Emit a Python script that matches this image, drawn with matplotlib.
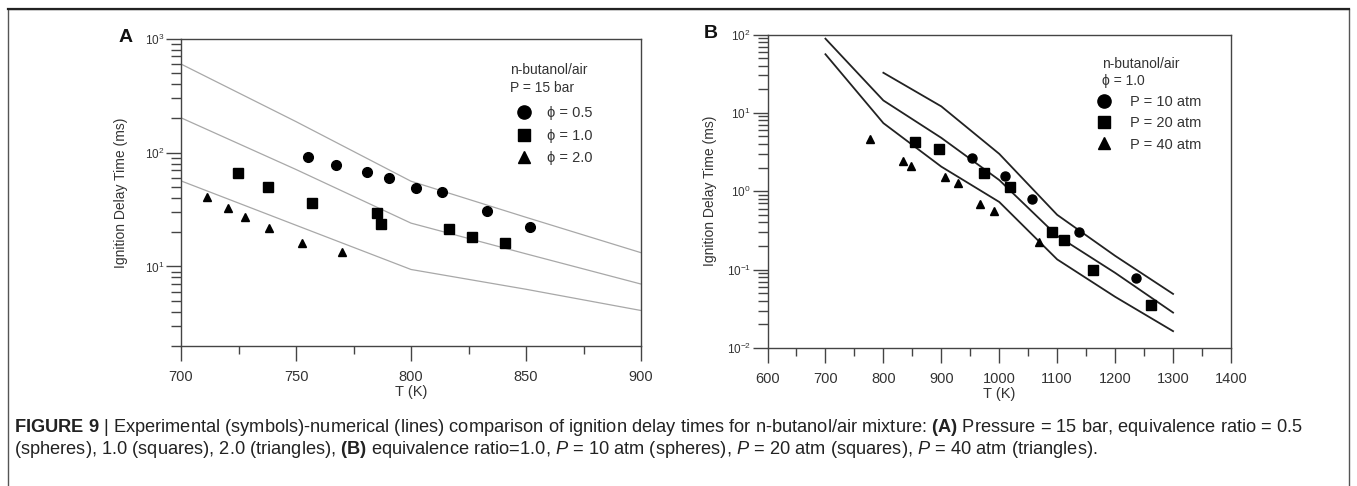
import matplotlib
matplotlib.use("Agg")
import matplotlib.pyplot as plt
import numpy as np
from matplotlib.ticker import LogLocator, MultipleLocator, LogFormatterSciNotation, NullFormatter
from matplotlib.lines import Line2D
from matplotlib.patches import Rectangle

plt.rcParams['font.family'] = ['Liberation Sans', 'DejaVu Sans']
plt.rcParams['mathtext.fontset'] = 'custom'
plt.rcParams['mathtext.rm'] = 'Liberation Sans'
plt.rcParams['mathtext.it'] = 'Liberation Sans:italic'
plt.rcParams['mathtext.bf'] = 'Liberation Sans:bold'

# ---------------- Panel A data (P = 15 bar) ----------------
a_T_phi05 = [755.3, 767.5, 780.7, 790.6, 802.2, 813.4, 833.0, 851.6]
a_tau_phi05 = [91, 77.7, 67, 59.4, 48.7, 44.7, 30.4, 22.2]
a_T_phi10 = [724.7, 738.0, 757.1, 785.0, 787.1, 816.4, 826.5, 840.8]
a_tau_phi10 = [66.2, 50, 36.1, 29.4, 23.8, 21.1, 18.1, 15.9]
a_T_phi20 = [711.5, 720.5, 727.7, 738.2, 752.4, 769.8]
a_tau_phi20 = [41, 32.9, 27.1, 21.8, 15.9, 13.5]

a_T_model = [700, 750, 800, 850, 900]
a_model_phi05 = [599, 187, 56, 27, 13.2]
a_model_phi10 = [202, 71, 24, 12.9, 7.0]
a_model_phi20 = [56.4, 23, 9.4, 6.3, 4.1]

# ---------------- Panel B data (phi = 1.0) ----------------
b_T_10atm = [953.1, 1010.6, 1057.2, 1138.3, 1235.4]
b_tau_10atm = [2.64, 1.58, 0.80, 0.30, 0.078]
b_T_20atm = [854.2, 895.7, 974.2, 1018.9, 1091.7, 1110.9, 1162.6, 1261.6]
b_tau_20atm = [4.2, 3.45, 1.69, 1.14, 0.30, 0.24, 0.10, 0.0356]
b_T_40atm = [776.2, 833.7, 847.1, 905.9, 928.2, 967.2, 991.4, 1068.1]
b_tau_40atm = [4.65, 2.44, 2.12, 1.5, 1.28, 0.686, 0.568, 0.222]

b_T_model_10 = [800, 900, 1000, 1100, 1200, 1300]
b_model_10 = [32.5, 12.1, 3.0, 0.50, 0.15, 0.049]
b_T_model_20 = [700, 800, 900, 1000, 1100, 1200, 1300]
b_model_20 = [88.5, 14.4, 4.8, 1.39, 0.27, 0.091, 0.0283]
b_T_model_40 = [700, 800, 900, 1000, 1100, 1200, 1300]
b_model_40 = [56, 7.4, 2.06, 0.73, 0.135, 0.045, 0.0164]

a_legend_labels = ['ϕ = 0.5', 'ϕ = 1.0', 'ϕ = 2.0']
b_legend_labels = ['P = 10 atm', 'P = 20 atm', 'P = 40 atm']

W, H = 1357, 486
fig = plt.figure(figsize=(W / 100, H / 100), dpi=100)
fig.patch.set_facecolor('white')

TXT = '#333333'
AX = '#444444'


def px_axes(l, t, r, b):
    return fig.add_axes([l / W, 1 - b / H, (r - l) / W, (b - t) / H])


def style_axes(ax, xmaj, xmin):
    ax.set_yscale('log')
    for s in ax.spines.values():
        s.set_color(AX)
        s.set_linewidth(1.0)
    ax.xaxis.set_major_locator(MultipleLocator(xmaj))
    ax.xaxis.set_minor_locator(MultipleLocator(xmin))
    ax.yaxis.set_major_locator(LogLocator(base=10, numticks=20))
    ax.yaxis.set_minor_locator(LogLocator(base=10, subs=np.arange(2, 10), numticks=20))
    ax.yaxis.set_major_formatter(LogFormatterSciNotation())
    ax.yaxis.set_minor_formatter(NullFormatter())
    ax.tick_params(which='both', direction='out', top=False, right=False, color=AX, width=1.0)
    ax.tick_params(axis='x', which='major', length=11, pad=6, labelsize=10.5, labelcolor=TXT)
    ax.tick_params(axis='x', which='minor', length=6)
    ax.tick_params(axis='y', which='major', length=11, pad=1, labelsize=8.5, labelcolor=TXT)
    ax.tick_params(axis='y', which='minor', length=7)
    ax.set_xlabel('T (K)', fontsize=10.5, color=TXT, labelpad=1)
    ax.set_ylabel('Ignition Delay Time (ms)', fontsize=10, color=TXT)


# ---------------- Panel A ----------------
axA = px_axes(181, 38.7, 641, 346)
gray = '#a8a8a8'
for yv in (a_model_phi05, a_model_phi10, a_model_phi20):
    axA.plot(a_T_model, yv, color=gray, lw=0.9)
axA.plot(a_T_phi05, a_tau_phi05, 'o', color='black', ms=7, ls='none')
axA.plot(a_T_phi10, a_tau_phi10, 's', color='black', ms=6.5, ls='none')
axA.plot(a_T_phi20, a_tau_phi20, '^', color='black', ms=6, ls='none')
axA.set_xlim(700, 900)
axA.set_ylim(2, 1000)
style_axes(axA, 50, 25)
axA.yaxis.set_label_coords(-0.115, 0.5)

axA.text((510 - 181) / 460, 1 - (63 - 38.7) / 307.3, 'n-butanol/air\nP = 15 bar',
         transform=axA.transAxes, fontsize=10, color=TXT, va='top', ha='left', linespacing=1.35)
hA = [Line2D([], [], marker=m, color='black', ls='none', ms=s)
      for m, s in (('o', 9.5), ('s', 9), ('^', 9))]
legA = axA.legend(hA, a_legend_labels, loc='upper left', frameon=False,
                  bbox_to_anchor=((515 - 181) / 460, 1 - (106 - 38.7) / 307.3),
                  borderpad=0, borderaxespad=0, handlelength=1.2, handletextpad=1.0,
                  labelspacing=0.6, fontsize=10.5, labelcolor=TXT)

# ---------------- Panel B ----------------
axB = px_axes(767.5, 34.5, 1231, 348)
for xv, yv in ((b_T_model_10, b_model_10), (b_T_model_20, b_model_20), (b_T_model_40, b_model_40)):
    axB.plot(xv, yv, color='#222222', lw=1.3)
axB.plot(b_T_10atm, b_tau_10atm, 'o', color='black', ms=6.5, ls='none')
axB.plot(b_T_20atm, b_tau_20atm, 's', color='black', ms=6.5, ls='none')
axB.plot(b_T_40atm, b_tau_40atm, '^', color='black', ms=5.5, ls='none')
axB.set_xlim(600, 1400)
axB.set_ylim(0.01, 100)
style_axes(axB, 100, 50)
axB.yaxis.set_label_coords(-0.109, 0.5)

axB.text((1102 - 767.5) / 463.5, 1 - (57 - 34.5) / 313.5, 'n-butanol/air\nϕ = 1.0',
         transform=axB.transAxes, fontsize=10, color=TXT, va='top', ha='left', linespacing=1.25)
hB = [Line2D([], [], marker=m, color='black', ls='none', ms=s)
      for m, s in (('o', 9.5), ('s', 9), ('^', 9))]
legB = axB.legend(hB, b_legend_labels, loc='upper left', frameon=False,
                  bbox_to_anchor=((1095 - 767.5) / 463.5, 1 - (95 - 34.5) / 313.5),
                  borderpad=0, borderaxespad=0, handlelength=1.2, handletextpad=1.2,
                  labelspacing=0.5, fontsize=10.5, labelcolor=TXT)

# panel letters
fig.text(126 / W, 1 - 38 / H, 'A', fontsize=14, weight='bold', color='#111111', ha='center', va='center')
fig.text(711 / W, 1 - 34 / H, 'B', fontsize=14, weight='bold', color='#111111', ha='center', va='center')

# frame
fig.add_artist(Rectangle((7.5 / W, -0.05), (1349 - 7.5) / W, 1.05 - 9 / H,
                         transform=fig.transFigure, fill=False, edgecolor='#555555', lw=1.0))
fig.add_artist(Line2D([7.5 / W, 1349 / W], [1 - 9 / H, 1 - 9 / H], transform=fig.transFigure,
                      color='#222222', lw=1.6))

# caption
cap1 = (r"$\mathbf{FIGURE\ 9}$ | Experimental (symbols)-numerical (lines) comparison of ignition delay "
        r"times for n-butanol/air mixture: $\mathbf{(A)}$ Pressure = 15 bar, equivalence ratio = 0.5")
cap2 = (r"(spheres), 1.0 (squares), 2.0 (triangles), $\mathbf{(B)}$ equivalence ratio=1.0, "
        r"$\mathit{P}$ = 10 atm (spheres), $\mathit{P}$ = 20 atm (squares), $\mathit{P}$ = 40 atm (triangles).")
fs = 10
t1 = fig.text(14 / W, 1 - 432 / H, cap1, fontsize=fs, color='#222222', va='baseline', ha='left')
renderer = fig.canvas.get_renderer()
w1 = t1.get_window_extent(renderer).width
fs_fit = fs * (1307 - 14) / w1
t1.set_fontsize(fs_fit)
fig.text(14 / W, 1 - 454 / H, cap2, fontsize=fs_fit, color='#222222', va='baseline', ha='left')

fig.savefig('out.png', dpi=100, facecolor='white')
